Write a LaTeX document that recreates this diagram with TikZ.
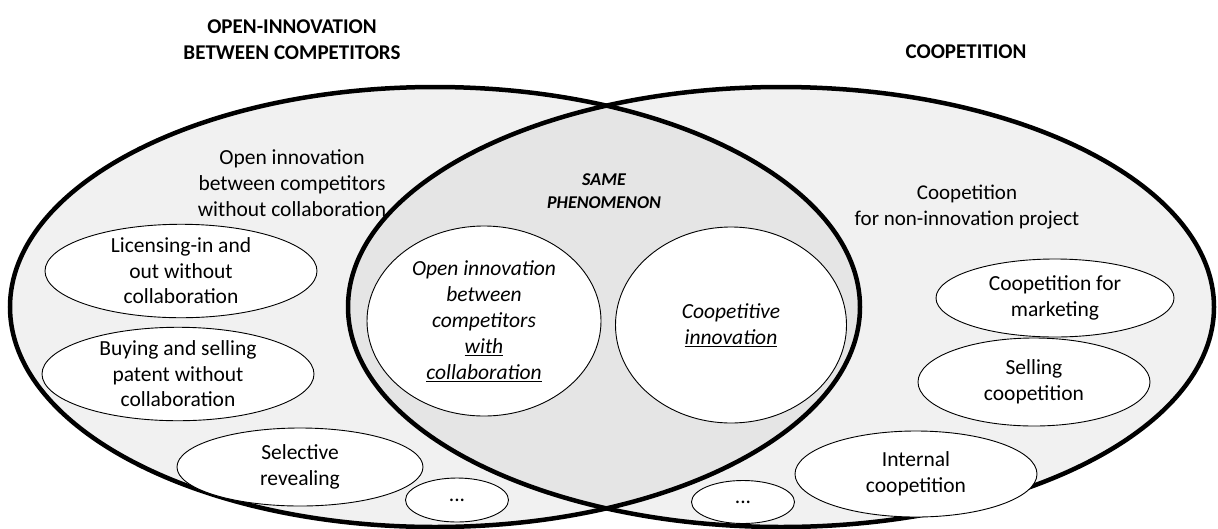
\documentclass[tikz,border=0pt]{standalone}
\usepackage{fontspec}
\setmainfont{Carlito}
\usetikzlibrary{shapes.geometric}
\definecolor{outerfill}{HTML}{F1F1F1}
\definecolor{midfill}{HTML}{E5E5E5}
\begin{document}
\begin{tikzpicture}[x=1pt,y=-1pt,
  item/.style={ellipse,draw=black,line width=0.9pt,fill=white,inner sep=0pt,align=center,
    font=\fontsize{21.5}{25.5}\selectfont},
  plain/.style={align=center,inner sep=0pt,font=\fontsize{21.5}{26}\selectfont},
  title/.style={align=center,inner sep=0pt,font=\fontsize{21}{26}\selectfont\bfseries},
  bigline/.style={line width=4.5pt,draw=black}]
\useasboundingbox (0,0) rectangle (1218,528);
% big sets
\fill[outerfill] (435,307) ellipse [x radius=425pt, y radius=220pt];
\fill[outerfill] (781,307) ellipse [x radius=433pt, y radius=220pt];
\begin{scope}
  \clip (435,307) ellipse [x radius=425pt, y radius=220pt];
  \fill[midfill] (781,307) ellipse [x radius=433pt, y radius=220pt];
\end{scope}
\draw[bigline] (435,307) ellipse [x radius=425pt, y radius=220pt];
\draw[bigline] (781,307) ellipse [x radius=433pt, y radius=220pt];
% titles
\node[title] (t1) at (292,40) {OPEN-INNOVATION\\BETWEEN COMPETITORS};
\node[title] (t2) at (966,52) {COOPETITION};
% region labels
\node[plain] (l1) at (292,183) {Open innovation\\between competitors\\without collaboration};
\node[plain,font=\fontsize{21}{26}\selectfont] (l2) at (967,207) {Coopetition\\for non-innovation project};
\node[align=center,inner sep=0pt,font=\fontsize{18}{23}\selectfont\bfseries\itshape] (same) at (604,191) {SAME\\PHENOMENON};
% left items
\node[item,minimum width=272pt,minimum height=90pt] (lic) at (181,271) {Licensing-in and\\out without\\collaboration};
\node[item,minimum width=272pt,minimum height=91pt] (buy) at (178,374) {Buying and selling\\patent without\\collaboration};
\node[item,minimum width=246pt,minimum height=78pt] (sel) at (300,467) {Selective\\revealing};
\node[item,minimum width=103pt,minimum height=44pt] (dl) at (457,500) {...};
% middle items
\node[item,minimum width=234pt,minimum height=190pt,font=\fontsize{21.5}{26}\selectfont\itshape] (oi) at (484,321) {Open innovation\\between\\competitors\\\underline{with}\\\underline{collaboration}};
\node[item,minimum width=231pt,minimum height=196pt,font=\fontsize{21.5}{26}\selectfont\itshape] (ci) at (731,325) {Coopetitive\\\underline{innovation}};
% right items
\node[item,minimum width=238pt,minimum height=78pt] (mk) at (1055,298) {Coopetition for\\marketing};
\node[item,minimum width=232pt,minimum height=88pt] (sc) at (1034,382) {Selling\\coopetition};
\node[item,minimum width=242pt,minimum height=86pt] (ic) at (916,474) {Internal\\coopetition};
\node[item,minimum width=103pt,minimum height=43pt] (dr) at (743,502) {...};
\end{tikzpicture}
\end{document}
